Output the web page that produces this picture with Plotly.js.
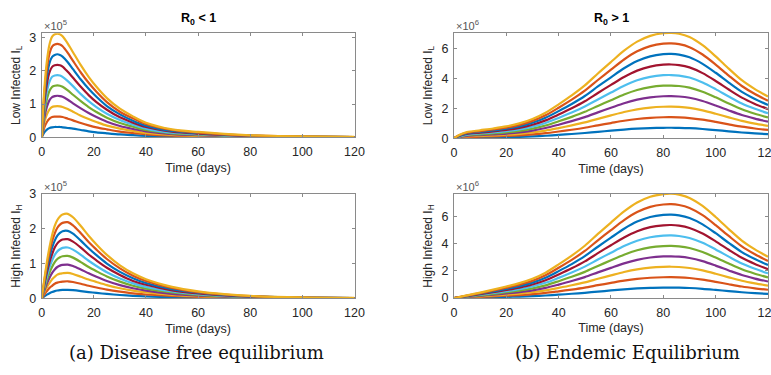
<!DOCTYPE html>
<html>
<head>
<meta charset="utf-8">
<script src="https://cdn.plot.ly/plotly-3.0.1.min.js"></script>
<style>html,body{margin:0;padding:0;background:#fff;overflow:hidden}#chart{width:771px;height:375px}</style>
</head>
<body>
<div id="chart"></div>
<script>
// ---- time grids (days) ----
const tDFE = [0,1,2,3,4,5,6,7,8,10,12,15,18,21,25,30,35,40,50,60,70,80,100,120];
const tEND = [0,2,5,10,15,20,25,30,35,40,45,50,55,60,65,70,75,80,83,86,90,95,100,105,110,115,120];

// ---- (a) Disease free equilibrium, Low Infected I_L (x1e5) ----
const IL_dfe_1  = [0,0.15,0.23,0.28,0.30,0.31,0.31,0.31,0.30,0.28,0.26,0.22,0.18,0.15,0.12,0.086,0.063,0.044,0.024,0.016,0.01,0.006,0.003,0.001];
const IL_dfe_2  = [0,0.29,0.46,0.56,0.61,0.62,0.62,0.62,0.61,0.56,0.51,0.43,0.36,0.30,0.24,0.17,0.13,0.088,0.048,0.032,0.02,0.012,0.005,0.002];
const IL_dfe_3  = [0,0.44,0.69,0.84,0.91,0.93,0.94,0.93,0.91,0.85,0.77,0.65,0.55,0.46,0.35,0.26,0.19,0.13,0.072,0.048,0.03,0.018,0.008,0.003];
const IL_dfe_4  = [0,0.58,0.92,1.12,1.21,1.24,1.25,1.24,1.22,1.13,1.02,0.87,0.73,0.61,0.47,0.34,0.25,0.18,0.096,0.064,0.04,0.024,0.01,0.004];
const IL_dfe_5  = [0,0.73,1.15,1.40,1.52,1.55,1.56,1.55,1.52,1.41,1.28,1.09,0.91,0.76,0.59,0.43,0.32,0.22,0.12,0.08,0.05,0.03,0.013,0.005];
const IL_dfe_6  = [0,0.87,1.38,1.68,1.82,1.86,1.87,1.86,1.82,1.69,1.54,1.30,1.09,0.91,0.71,0.52,0.38,0.26,0.14,0.096,0.06,0.036,0.015,0.006];
const IL_dfe_7  = [0,1.02,1.61,1.96,2.12,2.17,2.18,2.17,2.13,1.97,1.79,1.52,1.27,1.06,0.83,0.60,0.44,0.31,0.17,0.11,0.07,0.042,0.018,0.007];
const IL_dfe_8  = [0,1.16,1.84,2.24,2.42,2.48,2.50,2.48,2.43,2.26,2.05,1.74,1.46,1.22,0.94,0.69,0.50,0.35,0.19,0.13,0.08,0.048,0.02,0.008];
const IL_dfe_9  = [0,1.31,2.07,2.52,2.73,2.79,2.81,2.79,2.74,2.54,2.30,1.95,1.64,1.37,1.06,0.77,0.57,0.40,0.22,0.14,0.09,0.054,0.023,0.009];
const IL_dfe_10 = [0,1.45,2.30,2.80,3.03,3.10,3.12,3.10,3.04,2.82,2.56,2.17,1.82,1.52,1.18,0.86,0.63,0.44,0.24,0.16,0.10,0.06,0.025,0.01];

// ---- (a) Disease free equilibrium, High Infected I_H (x1e5) ----
const IH_dfe_1  = [0,0.055,0.105,0.148,0.182,0.208,0.225,0.235,0.241,0.243,0.233,0.208,0.18,0.155,0.125,0.095,0.072,0.055,0.033,0.02,0.012,0.007,0.0025,0.001];
const IH_dfe_2  = [0,0.11,0.21,0.30,0.36,0.42,0.45,0.47,0.48,0.49,0.47,0.42,0.36,0.31,0.25,0.19,0.14,0.11,0.066,0.04,0.024,0.014,0.005,0.002];
const IH_dfe_3  = [0,0.17,0.32,0.44,0.55,0.62,0.68,0.71,0.72,0.73,0.70,0.62,0.54,0.47,0.38,0.29,0.22,0.17,0.10,0.06,0.036,0.021,0.008,0.003];
const IH_dfe_4  = [0,0.22,0.42,0.59,0.73,0.83,0.90,0.94,0.96,0.97,0.93,0.83,0.72,0.62,0.50,0.38,0.29,0.22,0.13,0.08,0.048,0.028,0.01,0.004];
const IH_dfe_5  = [0,0.28,0.53,0.74,0.91,1.04,1.13,1.18,1.21,1.22,1.17,1.04,0.90,0.78,0.63,0.48,0.36,0.28,0.17,0.10,0.06,0.035,0.013,0.005];
const IH_dfe_6  = [0,0.33,0.63,0.89,1.09,1.25,1.35,1.41,1.45,1.46,1.40,1.25,1.08,0.93,0.75,0.57,0.43,0.33,0.20,0.12,0.072,0.042,0.015,0.006];
const IH_dfe_7  = [0,0.39,0.74,1.04,1.27,1.46,1.58,1.65,1.69,1.70,1.63,1.46,1.26,1.09,0.88,0.67,0.50,0.39,0.23,0.14,0.084,0.049,0.018,0.007];
const IH_dfe_8  = [0,0.44,0.84,1.18,1.46,1.66,1.80,1.88,1.93,1.94,1.86,1.66,1.44,1.24,1.00,0.76,0.58,0.44,0.26,0.16,0.096,0.056,0.02,0.008];
const IH_dfe_9  = [0,0.50,0.95,1.33,1.64,1.87,2.03,2.12,2.17,2.19,2.10,1.87,1.62,1.40,1.13,0.86,0.65,0.50,0.30,0.18,0.11,0.063,0.023,0.009];
const IH_dfe_10 = [0,0.55,1.05,1.48,1.82,2.08,2.25,2.35,2.41,2.43,2.33,2.08,1.80,1.55,1.25,0.95,0.72,0.55,0.33,0.20,0.12,0.07,0.025,0.01];

// ---- (b) Endemic equilibrium, Low Infected I_L (x1e6) ----
const IL_end_1  = [0,0.022,0.042,0.054,0.066,0.08,0.10,0.13,0.172,0.228,0.288,0.355,0.435,0.512,0.588,0.649,0.688,0.706,0.708,0.702,0.68,0.625,0.55,0.468,0.39,0.33,0.28];
const IL_end_2  = [0,0.044,0.084,0.108,0.132,0.16,0.20,0.26,0.344,0.456,0.576,0.71,0.87,1.024,1.176,1.298,1.376,1.412,1.416,1.404,1.36,1.25,1.10,0.936,0.78,0.66,0.56];
const IL_end_3  = [0,0.066,0.126,0.162,0.198,0.24,0.30,0.39,0.516,0.684,0.864,1.065,1.305,1.536,1.764,1.947,2.064,2.118,2.124,2.106,2.04,1.875,1.65,1.404,1.17,0.99,0.84];
const IL_end_4  = [0,0.088,0.168,0.216,0.264,0.32,0.40,0.52,0.688,0.912,1.152,1.42,1.74,2.048,2.352,2.596,2.752,2.824,2.832,2.808,2.72,2.50,2.20,1.872,1.56,1.32,1.12];
const IL_end_5  = [0,0.11,0.21,0.27,0.33,0.40,0.50,0.65,0.86,1.14,1.44,1.775,2.175,2.56,2.94,3.245,3.44,3.53,3.54,3.51,3.40,3.125,2.75,2.34,1.95,1.65,1.40];
const IL_end_6  = [0,0.132,0.252,0.324,0.396,0.48,0.60,0.78,1.032,1.368,1.728,2.13,2.61,3.072,3.528,3.894,4.128,4.236,4.248,4.212,4.08,3.75,3.30,2.808,2.34,1.98,1.68];
const IL_end_7  = [0,0.154,0.294,0.378,0.462,0.56,0.70,0.91,1.204,1.596,2.016,2.485,3.045,3.584,4.116,4.543,4.816,4.942,4.956,4.914,4.76,4.375,3.85,3.276,2.73,2.31,1.96];
const IL_end_8  = [0,0.176,0.336,0.432,0.528,0.64,0.80,1.04,1.376,1.824,2.304,2.84,3.48,4.096,4.704,5.192,5.504,5.648,5.664,5.616,5.44,5.00,4.40,3.744,3.12,2.64,2.24];
const IL_end_9  = [0,0.198,0.378,0.486,0.594,0.72,0.90,1.17,1.548,2.052,2.592,3.195,3.915,4.608,5.292,5.841,6.192,6.354,6.372,6.318,6.12,5.625,4.95,4.212,3.51,2.97,2.52];
const IL_end_10 = [0,0.22,0.42,0.54,0.66,0.80,1.00,1.30,1.72,2.28,2.88,3.55,4.35,5.12,5.88,6.49,6.88,7.06,7.08,7.02,6.80,6.25,5.50,4.68,3.90,3.30,2.80];

// ---- (b) Endemic equilibrium, High Infected I_H (x1e6) ----
const IH_end_1  = [0,0.007,0.02,0.04,0.062,0.085,0.11,0.142,0.187,0.248,0.313,0.386,0.473,0.557,0.639,0.705,0.748,0.767,0.77,0.763,0.739,0.68,0.598,0.509,0.424,0.359,0.304];
const IH_end_2  = [0,0.014,0.04,0.08,0.124,0.17,0.22,0.284,0.374,0.496,0.626,0.772,0.946,1.114,1.278,1.41,1.496,1.534,1.54,1.526,1.478,1.36,1.196,1.018,0.848,0.718,0.608];
const IH_end_3  = [0,0.021,0.06,0.12,0.186,0.255,0.33,0.426,0.561,0.744,0.939,1.158,1.419,1.671,1.917,2.115,2.244,2.301,2.31,2.289,2.217,2.04,1.794,1.527,1.272,1.077,0.912];
const IH_end_4  = [0,0.028,0.08,0.16,0.248,0.34,0.44,0.568,0.748,0.992,1.252,1.544,1.892,2.228,2.556,2.82,2.992,3.068,3.08,3.052,2.956,2.72,2.392,2.036,1.696,1.436,1.216];
const IH_end_5  = [0,0.035,0.10,0.20,0.31,0.425,0.55,0.71,0.935,1.24,1.565,1.93,2.365,2.785,3.195,3.525,3.74,3.835,3.85,3.815,3.695,3.40,2.99,2.545,2.12,1.795,1.52];
const IH_end_6  = [0,0.042,0.12,0.24,0.372,0.51,0.66,0.852,1.122,1.488,1.878,2.316,2.838,3.342,3.834,4.23,4.488,4.602,4.62,4.578,4.434,4.08,3.588,3.054,2.544,2.154,1.824];
const IH_end_7  = [0,0.049,0.14,0.28,0.434,0.595,0.77,0.994,1.309,1.736,2.191,2.702,3.311,3.899,4.473,4.935,5.236,5.369,5.39,5.341,5.173,4.76,4.186,3.563,2.968,2.513,2.128];
const IH_end_8  = [0,0.056,0.16,0.32,0.496,0.68,0.88,1.136,1.496,1.984,2.504,3.088,3.784,4.456,5.112,5.64,5.984,6.136,6.16,6.104,5.912,5.44,4.784,4.072,3.392,2.872,2.432];
const IH_end_9  = [0,0.063,0.18,0.36,0.558,0.765,0.99,1.278,1.683,2.232,2.817,3.474,4.257,5.013,5.751,6.345,6.732,6.903,6.93,6.867,6.651,6.12,5.382,4.581,3.816,3.231,2.736];
const IH_end_10 = [0,0.07,0.20,0.40,0.62,0.85,1.10,1.42,1.87,2.48,3.13,3.86,4.73,5.57,6.39,7.05,7.48,7.67,7.70,7.63,7.39,6.80,5.98,5.09,4.24,3.59,3.04];

// ---- tick labels ----
const xTicks = [0,20,40,60,80,100,120];
const yTicksDFE = [0,1,2,3];
const yTicksEND = [0,2,4,6];

// MATLAB default line colour order
const colors = ['#0072BD','#D95319','#EDB120','#7E2F8E','#77AC30','#4DBEEE','#A2142F','#0072BD','#D95319','#EDB120'];

const panels = [
  {x: tDFE, ys: [IL_dfe_1,IL_dfe_2,IL_dfe_3,IL_dfe_4,IL_dfe_5,IL_dfe_6,IL_dfe_7,IL_dfe_8,IL_dfe_9,IL_dfe_10], xa:'x',  ya:'y'},
  {x: tDFE, ys: [IH_dfe_1,IH_dfe_2,IH_dfe_3,IH_dfe_4,IH_dfe_5,IH_dfe_6,IH_dfe_7,IH_dfe_8,IH_dfe_9,IH_dfe_10], xa:'x2', ya:'y2'},
  {x: tEND, ys: [IL_end_1,IL_end_2,IL_end_3,IL_end_4,IL_end_5,IL_end_6,IL_end_7,IL_end_8,IL_end_9,IL_end_10], xa:'x3', ya:'y3'},
  {x: tEND, ys: [IH_end_1,IH_end_2,IH_end_3,IH_end_4,IH_end_5,IH_end_6,IH_end_7,IH_end_8,IH_end_9,IH_end_10], xa:'x4', ya:'y4'}
];

const traces = [];
panels.forEach(p => {
  p.ys.forEach((y, i) => {
    traces.push({x: p.x, y: y, xaxis: p.xa, yaxis: p.ya, type: 'scatter', mode: 'lines',
      line: {color: colors[i], width: 2.2, shape: 'spline', smoothing: 0.8},
      showlegend: false, hoverinfo: 'skip'});
  });
});

const FONT = 'Liberation Sans, Arial, sans-serif';
const axisCommon = {showline: true, mirror: 'ticks', linecolor: '#8a8a8a', linewidth: 1,
  ticks: 'inside', ticklen: 3, tickcolor: '#8a8a8a', showgrid: false, zeroline: false,
  tickfont: {family: FONT, size: 12.5, color: '#262626'}, fixedrange: true};

function xax(domain, anchor) {
  return Object.assign({}, axisCommon, {domain: domain, anchor: anchor, range: [0,120], tickvals: xTicks,
    ticklabelstandoff: 3, ticklabeloverflow: 'allow',
    title: {text: 'Time (days)', font: {family: FONT, size: 12.5, color: '#262626'}, standoff: 4}});
}
function yax(domain, anchor, range, tv, title) {
  return Object.assign({}, axisCommon, {domain: domain, anchor: anchor, range: range, tickvals: tv,
    ticklabelstandoff: 2,
    title: {text: title, font: {family: FONT, size: 12, color: '#262626'}, standoff: 6}});
}

const xL = [0.0541, 0.4598], xR = [0.5888, 0.9961];
const layout = {
  width: 771, height: 375, margin: {l:0, r:0, t:0, b:0},
  paper_bgcolor: '#fff', plot_bgcolor: '#fff', showlegend: false,
  xaxis:  xax(xL, 'y'),
  yaxis:  yax([0.6339, 0.9112], 'x',  [0, 3.13], yTicksDFE, 'Low Infected I<sub>L</sub>'),
  xaxis2: xax(xL, 'y2'),
  yaxis2: yax([0.2045, 0.4827], 'x2', [0, 3], yTicksDFE, 'High Infected I<sub>H</sub>'),
  xaxis3: xax(xR, 'y3'),
  yaxis3: yax([0.6312, 0.9128], 'x3', [0, 7.09], yTicksEND, 'Low Infected I<sub>L</sub>'),
  xaxis4: xax(xR, 'y4'),
  yaxis4: yax([0.2053, 0.4827], 'x4', [0, 7.68], yTicksEND, 'High Infected I<sub>H</sub>'),
  annotations: [
    {text: '<b>R<sub>0</sub> &lt; 1</b>', xref: 'paper', yref: 'paper', x: 0.257, y: 1 - 19/375, showarrow: false,
     xanchor: 'center', yanchor: 'middle', font: {family: FONT, size: 12.5, color: '#000'}},
    {text: '<b>R<sub>0</sub> &gt; 1</b>', xref: 'paper', yref: 'paper', x: 0.7925, y: 1 - 19/375, showarrow: false,
     xanchor: 'center', yanchor: 'middle', font: {family: FONT, size: 12.5, color: '#000'}},
    {text: '×10<sup>5</sup>', xref: 'paper', yref: 'paper', x: 0.0541, y: 1 - 25/375, showarrow: false,
     xanchor: 'left', yanchor: 'middle', font: {family: FONT, size: 11, color: '#555'}},
    {text: '×10<sup>5</sup>', xref: 'paper', yref: 'paper', x: 0.0541, y: 1 - 186/375, showarrow: false,
     xanchor: 'left', yanchor: 'middle', font: {family: FONT, size: 11, color: '#555'}},
    {text: '×10<sup>6</sup>', xref: 'paper', yref: 'paper', x: 0.5888, y: 1 - 25/375, showarrow: false,
     xanchor: 'left', yanchor: 'middle', font: {family: FONT, size: 11, color: '#555'}},
    {text: '×10<sup>6</sup>', xref: 'paper', yref: 'paper', x: 0.5888, y: 1 - 186/375, showarrow: false,
     xanchor: 'left', yanchor: 'middle', font: {family: FONT, size: 11, color: '#555'}},
    {text: '(a) Disease free equilibrium', xref: 'paper', yref: 'paper', x: 196/771, y: 1 - 352/375, showarrow: false,
     xanchor: 'center', yanchor: 'middle', font: {family: 'DejaVu Serif, serif', size: 18, color: '#111'}},
    {text: '(b) Endemic Equilibrium', xref: 'paper', yref: 'paper', x: 627/771, y: 1 - 352/375, showarrow: false,
     xanchor: 'center', yanchor: 'middle', font: {family: 'DejaVu Serif, serif', size: 18, color: '#111'}}
  ]
};

Plotly.newPlot('chart', traces, layout, {staticPlot: true, displayModeBar: false});
</script>
</body>
</html>
